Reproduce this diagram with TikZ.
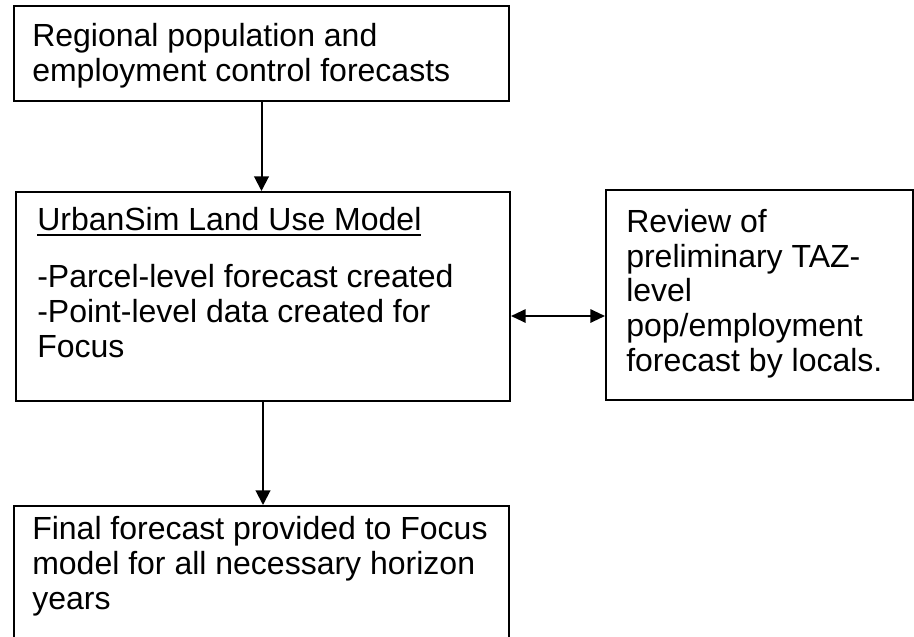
\documentclass[tikz,border=0pt]{standalone}
\usepackage{fontspec}
\setmainfont{Liberation Sans}
\usetikzlibrary{arrows.meta}
\newcommand{\ulText}[1]{\setbox0\hbox{#1}\rlap{\rule[-4.5pt]{\wd0}{1.4pt}}\box0}

\begin{document}
\begin{tikzpicture}
[x=0.75pt,y=-0.75pt,
  boxDecorate/.style={draw,line width=1.5pt,inner sep=0pt,anchor=north west},%
  textDecorate/.style={anchor=base west,inner sep=0pt,align=left,
    font=\fontsize{24}{26}\selectfont},%
  lineDecorate/.style={-{Triangle[width=11pt,length=11pt]},line width=1.5pt},%
  bothDecorate/.style={{Triangle[width=10pt,length=11pt]}-{Triangle[width=10pt,length=11pt]},
    line width=1.5pt}]
\useasboundingbox (0,0) rectangle (914,636);
%% boxes
\foreach \nodename/\x/\y/\w/\h in {
  regional/13/5/495/95, urbansim/15/191/494/209,
  review/605/189/307/210, final/13/505/495/140}
{
  \node (\nodename) at (\x,\y) [boxDecorate,minimum width=\w*0.75pt,minimum height=\h*0.75pt] {};
}
%% texts (anchored at the baseline of the last line)
\node (regionalText) at (32,81) [textDecorate]
  {Regional population and\\employment control forecasts};
\node (urbansimText) at (37,357) [textDecorate]
  {\ulText{UrbanSim Land Use Model}\\[17pt]-Parcel-level forecast created\\
   -Point-level data created for\\Focus};
\node (reviewText) at (626,371) [textDecorate]
  {Review of\\preliminary TAZ-\\level\\pop/employment\\forecast by locals.};
\node (finalText) at (32,609) [textDecorate]
  {Final forecast provided to Focus\\model for all necessary horizon\\years};
%% connectors
\coordinate (link) at (0,316);
\draw[lineDecorate] (regional.south) -- (regional.south |- urbansim.north);
\draw[lineDecorate] (urbansim.south) -- (urbansim.south |- final.north);
\draw[bothDecorate] (urbansim.east |- link) -- (review.west |- link);
\end{tikzpicture}
\end{document}
